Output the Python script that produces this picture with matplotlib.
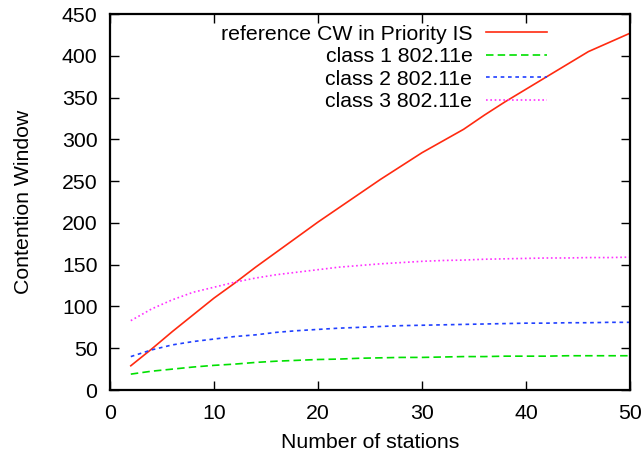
import matplotlib
matplotlib.use("Agg")
import matplotlib.pyplot as plt

stations = [2, 4, 6, 8, 10, 12, 14, 16, 18, 20, 22, 24, 26, 28, 30, 32, 34, 36, 38, 40, 42, 44, 46, 48, 50]
cw_priority = [29, 49, 70, 90, 110, 128, 147, 165, 183, 201, 218, 235, 252, 268, 284, 298, 312, 329, 345, 360, 375, 390, 405, 416, 427]
class1 = [19, 22.5, 25, 27.5, 29.5, 31, 33, 34.5, 35.5, 36.5, 37, 38, 38.5, 39, 39, 39.5, 40, 40, 40.5, 40.5, 40.5, 41, 41, 41, 41]
class2 = [40, 48, 54, 58, 61, 64, 66, 69, 71, 72.5, 74, 75, 76, 77, 77.5, 78, 78.5, 79, 79.5, 80, 80, 80.5, 80.5, 81, 81]
class3 = [83, 97, 108, 117, 123, 129, 134, 138, 141, 144, 147, 149, 151, 152.5, 154, 155, 155.5, 156.5, 157, 157.5, 158, 158, 158.5, 158.5, 159]

labels = ["reference CW in Priority IS", "class 1 802.11e", "class 2 802.11e", "class 3 802.11e"]
xticks = [0, 10, 20, 30, 40, 50]
yticks = [0, 50, 100, 150, 200, 250, 300, 350, 400, 450]

plt.rcParams['font.family'] = ['Liberation Sans', 'DejaVu Sans']

fig = plt.figure(figsize=(6.44, 4.57), dpi=100)
ax = fig.add_axes([110/644, 67/457, 520/644, 376/457])

lw = 1.2
ax.plot(stations, cw_priority, color='#ff2a10', lw=lw, label=labels[0])
ax.plot(stations, class1, color='#00e000', lw=lw, dashes=(4.5, 2.5), label=labels[1])
ax.plot(stations, class2, color='#2040ff', lw=lw, dashes=(2.2, 2.2), label=labels[2])
ax.plot(stations, class3, color='#ff30ff', lw=lw, dashes=(1, 1.6), label=labels[3])

ax.set_xlim(0, 50)
ax.set_ylim(0, 450)
ax.set_xticks(xticks)
ax.set_yticks(yticks)
ax.tick_params(direction='in', length=6.5, width=1.0, top=True, right=True, labelsize=15.3)
ax.tick_params(axis='x', pad=10)
ax.tick_params(axis='y', pad=9)
for s in ax.spines.values():
    s.set_linewidth(1.6)

ax.set_xlabel("Number of stations", fontsize=15.3, labelpad=7)
ax.set_ylabel("Contention Window", fontsize=15.3, labelpad=21)

leg = ax.legend(loc='upper right', bbox_to_anchor=(0.84, 0.972), frameon=False, markerfirst=False,
                fontsize=15.3, handlelength=2.85, handletextpad=0.65, labelspacing=0.17,
                borderaxespad=0, borderpad=0)

fig.savefig("out.png", dpi=100)
